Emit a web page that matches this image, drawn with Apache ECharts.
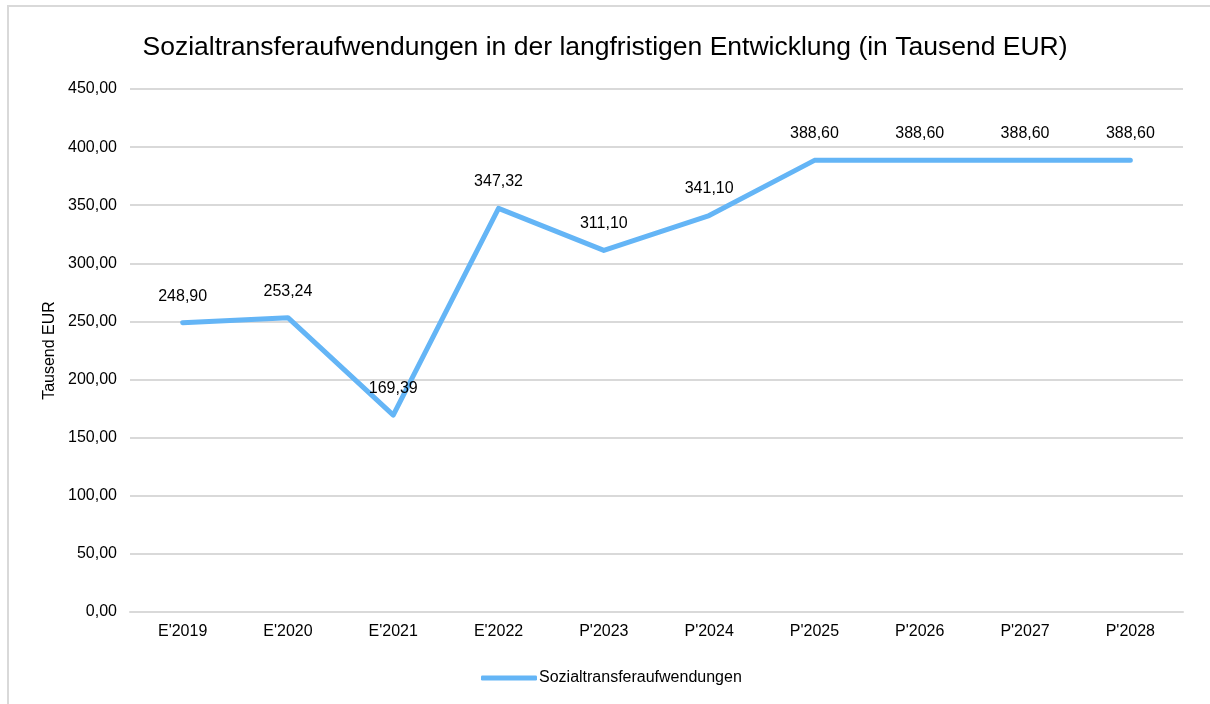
<!DOCTYPE html>
<html>
<head>
<meta charset="utf-8">
<script src="https://cdn.jsdelivr.net/npm/echarts@6/dist/echarts.min.js"></script>
<style>
  html, body { margin: 0; padding: 0; background: #fff; }
  #chart { width: 1210px; height: 704px; }
</style>
</head>
<body>
<div id="chart"></div>
<script>
  var years = ["E'2019", "E'2020", "E'2021", "E'2022", "P'2023", "P'2024", "P'2025", "P'2026", "P'2027", "P'2028"];
  var transfers = [248.90, 253.24, 169.39, 347.32, 311.10, 341.10, 388.60, 388.60, 388.60, 388.60];

  var font = 'Liberation Sans, Arial, sans-serif';

  function de(v) {
    return v.toFixed(2).replace('.', ',');
  }

  var chart = echarts.init(document.getElementById('chart'));
  chart.setOption({
    animation: false,
    textStyle: { fontFamily: font },
    graphic: [{
      type: 'rect',
      shape: { x: 8, y: 6, width: 1300, height: 800 },
      style: { fill: 'none', stroke: '#d9d9d9', lineWidth: 2 },
      silent: true
    }],
    title: {
      text: 'Sozialtransferaufwendungen in der langfristigen Entwicklung (in Tausend EUR)',
      left: 'center',
      top: 29,
      textStyle: { fontFamily: font, fontSize: 26.5, fontWeight: 'normal', color: '#000' }
    },
    legend: {
      top: 665,
      left: 476,
      itemWidth: 56,
      itemHeight: 5,
      icon: 'roundRect',
      textStyle: { fontFamily: font, fontSize: 16, color: '#000', padding: [0, 0, 0, -3] },
      data: ['Sozialtransferaufwendungen']
    },
    grid: { left: 130, right: 27, top: 89, bottom: 92 },
    xAxis: {
      type: 'category',
      data: years,
      axisTick: { show: false },
      axisLine: { lineStyle: { color: '#d9d9d9', width: 2 } },
      axisLabel: { fontFamily: font, fontSize: 16, color: '#000', margin: 12 }
    },
    yAxis: {
      type: 'value',
      min: 0,
      max: 450,
      interval: 50,
      name: 'Tausend EUR',
      nameLocation: 'middle',
      nameRotate: 90,
      nameGap: 71,
      nameTextStyle: { fontFamily: font, fontSize: 16, color: '#000' },
      axisLabel: { fontFamily: font, fontSize: 16, color: '#000', margin: 13, formatter: de },
      splitLine: { lineStyle: { color: '#d9d9d9', width: 2 } }
    },
    series: [{
      name: 'Sozialtransferaufwendungen',
      type: 'line',
      data: transfers,
      symbol: 'circle',
      symbolSize: 1,
      showSymbol: true,
      lineStyle: { color: '#64b5f6', width: 5, cap: 'round', join: 'round' },
      itemStyle: { color: '#64b5f6' },
      label: {
        show: true,
        position: 'top',
        distance: 18,
        fontFamily: font,
        fontSize: 16,
        color: '#000',
        formatter: function (p) { return de(p.value); }
      }
    }]
  });
</script>
</body>
</html>
